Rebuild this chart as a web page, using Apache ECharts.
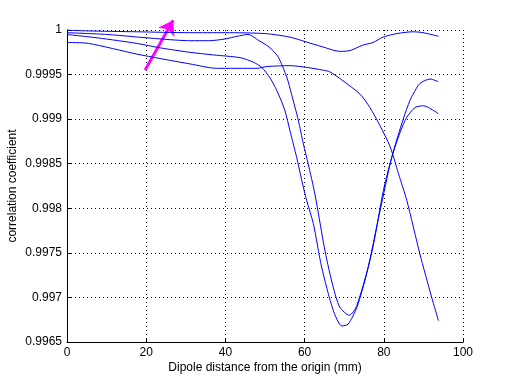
<!DOCTYPE html>
<html>
<head>
<meta charset="utf-8">
<script src="https://cdn.jsdelivr.net/npm/echarts@6/dist/echarts.min.js"></script>
<style>html,body{margin:0;padding:0;background:#fff}#c{width:512px;height:384px}</style>
</head>
<body>
<div id="c"></div>
<script>
// Data
var xTicks = [0, 20, 40, 60, 80, 100];
var yTicks = [0.9965, 0.997, 0.9975, 0.998, 0.9985, 0.999, 0.9995, 1];

var A_x = [0, 5, 17.6, 31, 40, 50, 56.3, 60.1, 64.6, 68.9, 71.5, 74.7, 77.3, 79.8, 83.3, 87.4, 89.9, 93.8];
var A_y = [1.00000, 0.99999, 0.99998, 0.99997, 0.99997, 0.99996, 0.99992, 0.99987, 0.99981, 0.99976, 0.99977, 0.99983, 0.99986, 0.99992, 0.99996, 0.99998, 0.99997, 0.99993];

var B_x = [0, 8, 17.6, 23.5, 31, 37, 43.7, 47, 49.2, 51.3, 53, 55, 56.3, 58, 59.3, 60.5, 62.2, 64.3, 67.2, 69.4, 71, 73.2, 75.7, 79, 82, 84.9, 86.6, 87.4, 89.1, 91.7, 93.8];
var B_y = [0.99995, 0.99991, 0.99985, 0.99980, 0.99975, 0.99972, 0.99969, 0.99964, 0.99958, 0.99946, 0.99932, 0.99910, 0.99887, 0.99857, 0.99831, 0.99809, 0.99783, 0.99734, 0.99686, 0.99668, 0.99670, 0.99689, 0.99727, 0.99796, 0.99857, 0.99900, 0.99921, 0.99928, 0.99940, 0.99945, 0.99942];

var C_x = [0, 10, 23.5, 31, 36, 40, 43, 45.7, 48.5, 51, 53.3, 55.5, 56.7, 58.4, 59.7, 60.9, 62.6, 65.2, 67.2, 68.9, 71.3, 73.2, 76.9, 79.9, 82, 84.1, 85.8, 87.9, 90, 93.8];
var C_y = [0.99997, 0.99995, 0.99990, 0.99988, 0.99988, 0.99990, 0.99993, 0.99995, 0.99988, 0.99981, 0.99970, 0.99947, 0.99928, 0.99899, 0.99872, 0.99850, 0.99816, 0.99751, 0.99712, 0.99689, 0.99680, 0.99691, 0.99749, 0.99820, 0.99857, 0.99885, 0.99902, 0.99913, 0.99915, 0.99906];

var D_x = [0, 5.4, 17.6, 23.5, 31, 37.8, 48, 50.5, 56.3, 60.6, 64.6, 66.4, 69.4, 74, 76.5, 79, 81.6, 83.7, 85.8, 89.1, 92.1, 93.8];
var D_y = [0.99986, 0.99985, 0.99973, 0.99968, 0.99962, 0.99957, 0.99957, 0.99959, 0.99960, 0.99958, 0.99955, 0.99953, 0.99944, 0.99928, 0.99913, 0.99893, 0.99869, 0.99839, 0.99809, 0.99749, 0.99700, 0.99674];

var arrowFrom = [19.7, 0.99955];
var arrowTo = [26.8, 1.00011];

function pairs(xs, ys) { return xs.map(function (x, i) { return [x, ys[i]]; }); }

var font = 'Liberation Sans, Arial, Helvetica, sans-serif';
function curve(xs, ys) {
  return {
    type: 'line', data: pairs(xs, ys), showSymbol: false, symbol: 'none',
    smooth: 0.25, lineStyle: { color: '#0000ff', width: 1 }, silent: true
  };
}

var chart = echarts.init(document.getElementById('c'), null, { renderer: 'canvas' });
chart.setOption({
  backgroundColor: '#ffffff',
  animation: false,
  grid: { left: 67, right: 49, top: 30, bottom: 42, containLabel: false, outerBoundsMode: 'none' },
  xAxis: {
    type: 'value', min: xTicks[0], max: xTicks[xTicks.length - 1], interval: 20,
    name: 'Dipole distance from the origin (mm)', nameLocation: 'middle', nameGap: 20,
    nameMoveOverlap: false,
    nameTextStyle: { color: '#000', fontFamily: font, fontSize: 12 },
    axisLine: { show: true, lineStyle: { color: '#000', width: 1 } },
    axisTick: { show: true, inside: true, length: 4, lineStyle: { color: '#000' } },
    axisLabel: { color: '#000', fontFamily: font, fontSize: 12, margin: 5 },
    splitLine: { show: true, lineStyle: { color: '#000', type: [1, 3], width: 1 } }
  },
  yAxis: {
    type: 'value', min: yTicks[0], max: yTicks[yTicks.length - 1], interval: 0.0005,
    name: 'correlation coefficient', nameLocation: 'middle', nameGap: 48,
    nameMoveOverlap: false,
    nameTextStyle: { color: '#000', fontFamily: font, fontSize: 12 },
    axisLine: { show: true, lineStyle: { color: '#000', width: 1 } },
    axisTick: { show: true, inside: true, length: 4, lineStyle: { color: '#000' } },
    axisLabel: {
      color: '#000', fontFamily: font, fontSize: 12, margin: 5,
      formatter: function (v) { return String(parseFloat(v.toFixed(4))); }
    },
    splitLine: { show: true, lineStyle: { color: '#000', type: [1, 3], width: 1 } }
  },
  series: [
    curve(A_x, A_y),
    curve(B_x, B_y),
    curve(C_x, C_y),
    curve(D_x, D_y),
    {
      type: 'lines', coordinateSystem: 'cartesian2d', clip: false, silent: true,
      symbol: ['none', 'arrow'], symbolSize: [11, 14],
      lineStyle: { color: '#ff00ff', width: 3, opacity: 1, curveness: 0 },
      data: [{ coords: [arrowFrom, arrowTo] }]
    }
  ]
});
</script>
</body>
</html>
